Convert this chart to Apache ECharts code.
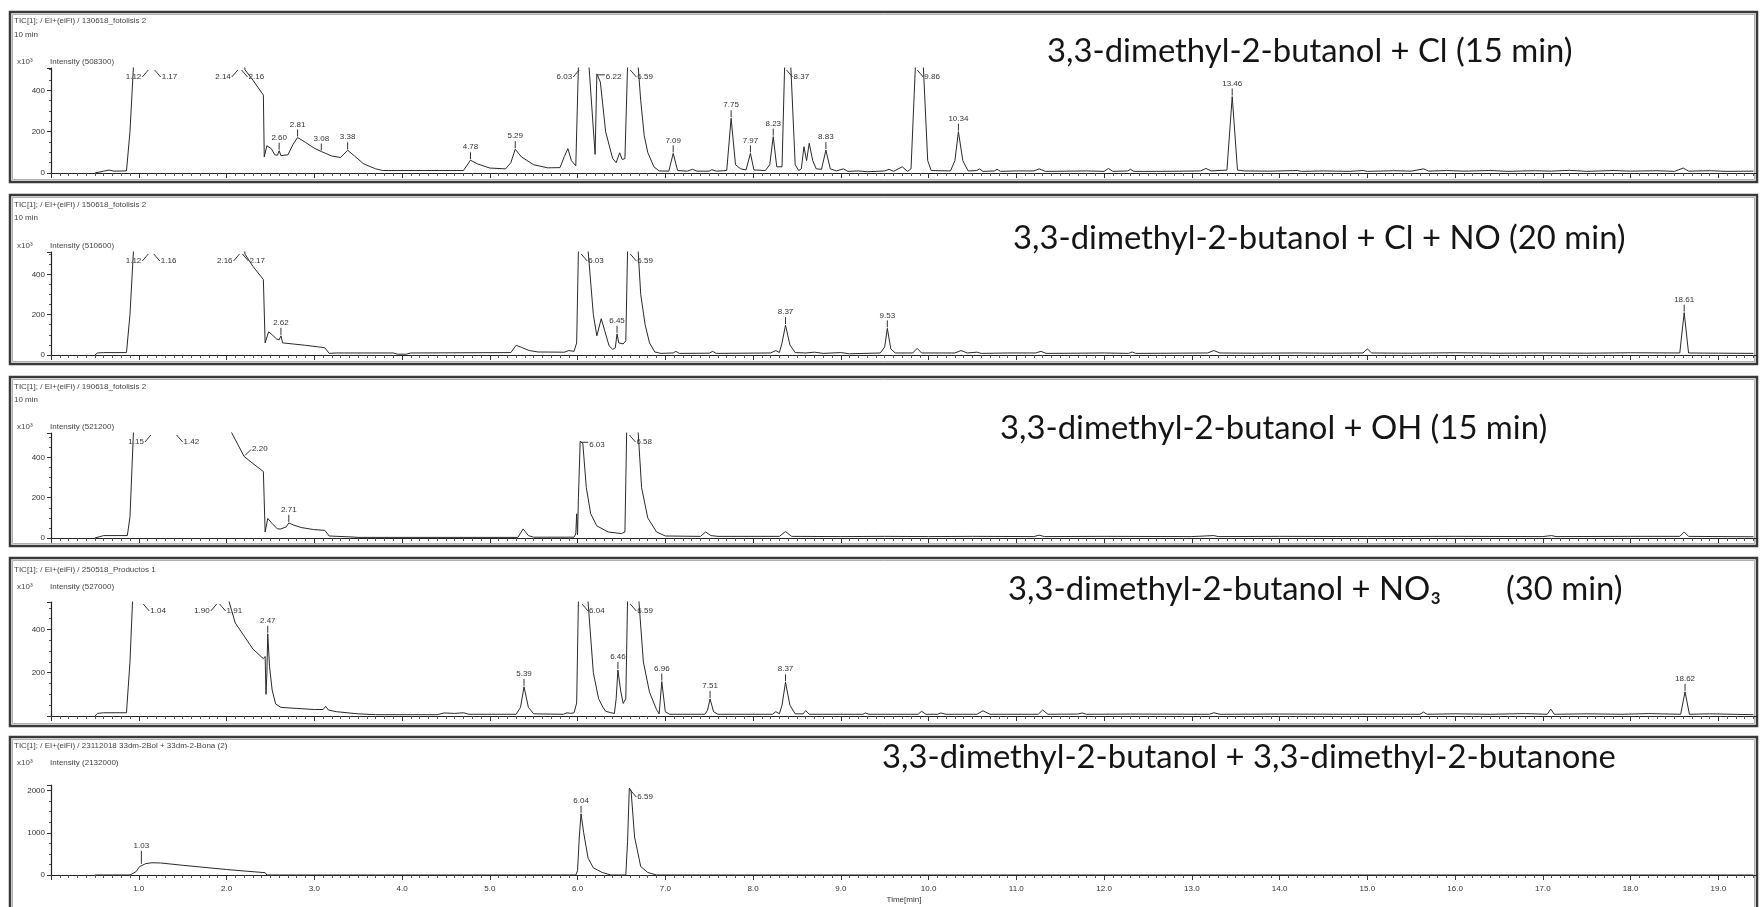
<!DOCTYPE html>
<html>
<head>
<meta charset="utf-8">
<script src="https://cdn.jsdelivr.net/npm/echarts/dist/echarts.min.js"></script>
<style>
html,body{margin:0;padding:0;background:#fff}
#chart{width:1760px;height:907px}
</style>
</head>
<body>
<div id="chart"></div>
<script>
// ---- chromatogram data: [retention time (min), intensity (x10^3)] ----
const CL_MAX = 508.3, CLNO_MAX = 510.6, OH_MAX = 521.2, NO3_MAX = 527.0, KET_MAX = 2132.0;
const OFF = 900; // off-scale (saturated) points, clipped at the plot top

const clTrace = [
  [0.50,0],[0.52,7],[0.60,9],[0.66,14],[0.72,9],[0.86,10],[0.90,200],[0.94,520],[0.97,OFF],
  [2.17,OFF],[2.21,500],[2.30,450],[2.42,377],[2.43,78],[2.46,132],[2.51,118],[2.55,88],[2.58,86],
  [2.60,108],[2.62,84],[2.70,88],[2.76,140],[2.81,172],[2.90,148],[3.00,120],[3.08,104],[3.20,82],
  [3.30,75],[3.38,110],[3.46,82],[3.56,45],[3.70,20],[3.78,12],[4.70,12],[4.78,62],[4.86,44],
  [5.00,24],[5.18,20],[5.24,50],[5.29,115],[5.36,78],[5.50,40],[5.66,25],[5.80,26],[5.85,80],
  [5.89,118],[5.93,60],[5.98,35],[6.01,520],[6.03,OFF],[6.10,OFF],[6.13,520],[6.20,90],[6.22,480],
  [6.26,440],[6.32,200],[6.40,70],[6.44,50],[6.48,98],[6.51,65],[6.54,70],[6.57,520],[6.60,OFF],
  [6.66,OFF],[6.69,520],[6.72,350],[6.76,180],[6.80,100],[6.87,30],[6.93,10],[7.04,9],[7.09,95],
  [7.14,12],[7.25,9],[7.31,18],[7.36,9],[7.50,9],[7.53,16],[7.58,9],[7.70,12],[7.75,265],[7.80,40],
  [7.86,20],[7.92,15],[7.97,95],[8.01,15],[8.14,12],[8.19,40],[8.23,176],[8.27,30],[8.33,30],
  [8.36,520],[8.38,OFF],[8.41,OFF],[8.43,520],[8.48,40],[8.52,12],[8.55,20],[8.58,127],[8.61,60],
  [8.64,144],[8.68,60],[8.72,20],[8.78,18],[8.83,111],[8.88,20],[8.95,10],[9.03,20],[9.08,8],
  [9.20,10],[9.30,6],[9.50,10],[9.55,18],[9.60,8],[9.70,30],[9.76,8],[9.80,20],[9.85,520],
  [9.87,OFF],[9.92,OFF],[9.94,520],[9.99,60],[10.03,12],[10.25,10],[10.30,60],[10.34,200],
  [10.39,60],[10.45,10],[10.55,12],[10.58,20],[10.62,8],[10.75,10],[10.78,18],[10.82,8],[11.00,10],
  [11.20,10],[11.26,20],[11.33,8],[11.60,9],[11.80,10],[12.00,8],[12.05,22],[12.10,8],[12.27,10],
  [12.30,18],[12.34,8],[12.60,8],[12.90,9],[13.10,10],[13.16,22],[13.22,10],[13.40,14],[13.46,370],
  [13.52,14],[13.60,10],[13.90,9],[14.20,12],[14.25,8],[14.50,10],[14.80,8],[14.95,12],[15.00,8],
  [15.30,11],[15.50,9],[15.64,20],[15.70,9],[15.90,12],[16.10,9],[16.40,12],[16.60,8],[16.90,11],
  [17.10,9],[17.30,13],[17.50,8],[17.80,12],[18.00,9],[18.30,11],[18.50,8],[18.60,24],[18.66,9],
  [18.90,11],[19.10,8],[19.40,9]
];

const clnoTrace = [
  [0.50,0],[0.53,10],[0.60,12],[0.86,12],[0.90,200],[0.94,520],[0.97,OFF],[2.17,OFF],[2.21,500],
  [2.30,440],[2.42,374],[2.44,60],[2.48,115],[2.52,100],[2.57,80],[2.60,75],[2.62,95],[2.64,60],
  [2.75,55],[2.90,48],[3.05,40],[3.12,36],[3.17,8],[3.25,10],[3.90,10],[3.95,4],[4.05,4],[4.10,10],
  [5.24,12],[5.30,48],[5.36,38],[5.45,22],[5.55,15],[5.85,14],[5.90,22],[5.96,18],[5.99,60],
  [6.01,520],[6.03,OFF],[6.09,OFF],[6.12,520],[6.18,200],[6.22,95],[6.27,180],[6.31,120],[6.36,45],
  [6.40,28],[6.43,35],[6.45,105],[6.47,60],[6.52,55],[6.55,70],[6.57,520],[6.59,OFF],[6.66,OFF],
  [6.69,520],[6.72,300],[6.77,150],[6.82,60],[6.88,15],[6.95,8],[7.09,10],[7.12,18],[7.16,8],
  [7.50,9],[7.54,18],[7.58,8],[8.20,10],[8.26,22],[8.30,12],[8.33,60],[8.37,148],[8.42,50],
  [8.48,12],[8.60,10],[8.70,14],[8.80,8],[9.00,12],[9.10,6],[9.45,10],[9.50,40],[9.53,132],
  [9.57,30],[9.62,10],[9.82,10],[9.87,33],[9.92,10],[10.30,10],[10.37,22],[10.44,10],[10.55,14],
  [10.60,8],[10.90,10],[11.22,10],[11.28,18],[11.34,8],[11.70,9],[12.00,10],[12.28,8],[12.32,15],
  [12.36,8],[12.80,9],[13.18,10],[13.25,22],[13.32,10],[13.70,9],[14.20,10],[14.60,9],[14.95,10],
  [15.00,30],[15.05,10],[15.50,9],[16.00,11],[16.50,9],[17.00,10],[17.50,9],[18.00,11],[18.56,10],
  [18.61,210],[18.66,10],[19.00,9],[19.40,8]
];

const ohTrace = [
  [0.50,0],[0.60,12],[0.87,12],[0.90,105],[0.94,530],[0.97,OFF],[2.02,OFF],[2.05,530],[2.20,405],
  [2.30,370],[2.42,330],[2.44,30],[2.47,97],[2.52,72],[2.58,45],[2.62,45],[2.68,55],[2.71,75],
  [2.76,65],[2.85,52],[2.99,42],[3.12,38],[3.17,10],[3.43,5],[3.50,3],[5.32,3],[5.38,45],[5.44,12],
  [5.50,4],[5.96,4],[5.98,20],[5.99,120],[6.00,15],[6.01,200],[6.03,480],[6.06,470],[6.10,250],
  [6.15,120],[6.22,60],[6.35,30],[6.50,22],[6.54,30],[6.56,530],[6.58,OFF],[6.66,OFF],[6.69,530],
  [6.73,250],[6.80,100],[6.90,30],[7.00,10],[7.40,8],[7.46,30],[7.52,12],[7.60,8],[8.30,8],
  [8.37,32],[8.44,8],[9.00,7],[9.50,8],[10.00,7],[10.50,8],[11.20,7],[11.26,14],[11.32,7],
  [12.00,8],[13.00,7],[13.25,12],[13.30,7],[14.00,8],[15.00,7],[16.00,8],[17.00,7],[17.10,12],
  [17.15,7],[18.00,8],[18.56,8],[18.61,30],[18.66,8],[19.40,6]
];

const no3Trace = [
  [0.50,0],[0.53,12],[0.60,15],[0.86,15],[0.90,250],[0.93,540],[0.96,OFF],[1.98,OFF],[2.03,527],
  [2.10,430],[2.20,370],[2.30,310],[2.42,265],[2.44,275],[2.45,100],[2.46,200],[2.47,380],
  [2.49,230],[2.52,120],[2.56,55],[2.62,40],[2.80,35],[3.00,30],[3.10,30],[3.13,45],[3.16,28],
  [3.25,20],[3.50,10],[3.70,6],[4.40,6],[4.48,14],[4.60,12],[4.70,15],[4.76,8],[5.30,8],[5.35,40],
  [5.39,135],[5.44,40],[5.50,10],[5.84,8],[5.88,15],[5.92,12],[5.96,15],[5.99,60],[6.01,540],
  [6.04,OFF],[6.09,OFF],[6.12,527],[6.18,200],[6.24,80],[6.29,40],[6.32,22],[6.38,15],[6.42,12],
  [6.44,80],[6.46,213],[6.49,120],[6.52,58],[6.55,80],[6.57,540],[6.59,OFF],[6.67,OFF],[6.70,527],
  [6.75,250],[6.82,110],[6.90,30],[6.93,10],[6.96,159],[7.00,20],[7.05,8],[7.45,8],[7.48,25],
  [7.51,79],[7.55,20],[7.60,8],[8.22,8],[8.26,20],[8.30,10],[8.33,50],[8.37,156],[8.42,50],
  [8.48,10],[8.57,10],[8.60,25],[8.64,8],[9.25,8],[9.28,14],[9.32,8],[9.88,8],[9.92,22],[9.97,8],
  [10.10,8],[10.14,14],[10.20,8],[10.55,8],[10.62,24],[10.70,8],[11.25,8],[11.30,28],[11.36,8],
  [11.70,9],[11.75,14],[11.80,8],[12.30,9],[13.20,8],[13.25,15],[13.32,8],[14.00,9],[14.80,8],
  [15.60,8],[15.64,18],[15.68,8],[16.00,10],[16.40,8],[16.80,11],[17.05,8],[17.09,32],[17.13,8],
  [17.50,10],[17.90,8],[18.20,11],[18.57,8],[18.62,112],[18.67,8],[18.90,10],[19.40,6]
];

const ketTrace = [
  [0.50,0],[0.90,0],[0.97,80],[1.01,200],[1.03,240],[1.08,270],[1.15,290],[1.25,285],[1.50,230],
  [1.80,170],[2.00,130],[2.20,95],[2.44,55],[2.46,0],[5.98,0],[6.00,100],[6.02,900],[6.04,1450],
  [6.07,1000],[6.12,400],[6.18,170],[6.28,60],[6.38,0],[6.55,0],[6.57,800],[6.59,2060],
  [6.61,2000],[6.65,900],[6.72,200],[6.80,60],[6.90,0],[19.40,0]
];

// ---- peak annotations: [time, intensity, style] ----
// style: T = above apex, L = left of saturated top, R = right of top, H = flat leader, U = rising leader
const clPeaks = [
  [1.12,CL_MAX,'L'],[1.17,CL_MAX,'R'],[2.14,CL_MAX,'L'],[2.16,CL_MAX,'R'],[2.60,108,'T'],
  [2.81,172,'T'],[3.08,104,'T'],[3.38,110,'T'],[4.78,62,'T'],[5.29,115,'T'],[6.03,CL_MAX,'L'],
  [6.22,480,'H'],[6.59,CL_MAX,'R'],[7.09,95,'T'],[7.75,265,'T'],[7.97,95,'T'],[8.23,176,'T'],
  [8.37,CL_MAX,'R'],[8.83,111,'T'],[9.86,CL_MAX,'R'],[10.34,200,'T'],[13.46,370,'T']
];
const clnoPeaks = [
  [1.12,CLNO_MAX,'L'],[1.16,CLNO_MAX,'R'],[2.16,CLNO_MAX,'L'],[2.17,CLNO_MAX,'R'],[2.62,95,'T'],
  [6.03,CLNO_MAX,'R'],[6.45,105,'T'],[6.59,CLNO_MAX,'R'],[8.37,148,'T'],[9.53,132,'T'],
  [18.61,210,'T']
];
const ohPeaks = [
  [1.15,OH_MAX,'L'],[1.42,OH_MAX,'R'],[2.20,405,'U'],[2.71,75,'T'],[6.03,480,'H'],[6.58,OH_MAX,'R']
];
const no3Peaks = [
  [1.04,NO3_MAX,'R'],[1.90,NO3_MAX,'L'],[1.91,NO3_MAX,'R'],[2.47,380,'T'],[5.39,135,'T'],
  [6.04,NO3_MAX,'R'],[6.46,213,'T'],[6.59,NO3_MAX,'R'],[6.96,159,'T'],[7.51,79,'T'],
  [8.37,156,'T'],[18.62,112,'T']
];
const ketPeaks = [
  [1.03,240,'T',13],[6.04,1450,'T'],[6.59,2060,'R']
];

// ---- run descriptions ----
const runFiles = [
  'TIC[1]; / EI+(eiFi) / 130618_fotolisis 2',
  'TIC[1]; / EI+(eiFi) / 150618_fotolisis 2',
  'TIC[1]; / EI+(eiFi) / 190618_fotolisis 2',
  'TIC[1]; / EI+(eiFi) / 250518_Productos 1',
  'TIC[1]; / EI+(eiFi) / 23112018 33dm-2Bol + 33dm-2-Bona (2)'
];
const runSpans = ['10 min', '10 min', '10 min', '', ''];
const titles = [
  '3,3-dimethyl-2-butanol + Cl (15 min)',
  '3,3-dimethyl-2-butanol + Cl + NO (20 min)',
  '3,3-dimethyl-2-butanol + OH (15 min)',
  '3,3-dimethyl-2-butanol + NO\u2083',
  '3,3-dimethyl-2-butanol + 3,3-dimethyl-2-butanone'
];
const extraTitle = '(30 min)';
const intensityMax = [CL_MAX, CLNO_MAX, OH_MAX, NO3_MAX, KET_MAX];
const yLabelStep = [200, 200, 200, 200, 1000];
const yShowZero = [true, true, true, false, true];
const traces = [clTrace, clnoTrace, ohTrace, no3Trace, ketTrace];
const peaks = [clPeaks, clnoPeaks, ohPeaks, no3Peaks, ketPeaks];

// ---- layout (pixels) ----
const TIME_MAX = 19.44;
const PLOT_LEFT = 51, PLOT_WIDTH = 1706;
const gridTop = [68, 252, 433, 602, 785];
const gridHeight = [105, 103, 105, 114, 90];
const frameTop = [12, 195, 377, 558, 737];
const frameBottom = [182, 364, 546, 726, 930];
const fileY = [21, 205, 387, 570, 746];
const spanY = [35, 218, 400, 0, 0];
const scaleY = [62, 246, 427, 587, 763];
const titleX = [1047, 1013, 1000, 1008, 882];
const titleY = [51, 238, 428, 589, 757];
const extraTitleX = 1506;

const SMALL = '"Liberation Sans", Arial, sans-serif';
const TITLE_FAMILY = 'Lato';

// one title size for all panels, sized so the first title spans its width
function titleFontSize() {
  const ctx = document.createElement('canvas').getContext('2d');
  ctx.font = '100px ' + TITLE_FAMILY;
  return 100 * 526 / ctx.measureText(titles[0]).width;
}
const titleSize = titleFontSize();

function peakLabels(idx, list) {
  return {
    type: 'custom',
    xAxisIndex: idx,
    yAxisIndex: idx,
    silent: true,
    z: 5,
    data: list.map(p => [p[0], p[1]]),
    renderItem: function (params, api) {
      const pk = list[params.dataIndex];
      const pt = api.coord([api.value(0), api.value(1)]);
      const x = pt[0], y = pt[1];
      const kind = pk[2];
      const tick = pk[3] || 7;
      let ln, tx, ty, align;
      if (kind === 'T') { ln = [x, y - 1, x, y - 1 - tick]; tx = x; ty = y - tick - 6; align = 'center'; }
      else if (kind === 'L') { ln = [x - 1, y + 2, x - 7, y + 9]; tx = x - 8; ty = y + 9; align = 'right'; }
      else if (kind === 'R') { ln = [x + 1, y + 2, x + 7, y + 9]; tx = x + 8; ty = y + 9; align = 'left'; }
      else if (kind === 'H') { ln = [x + 1, y + 1, x + 8, y + 1]; tx = x + 9; ty = y + 3; align = 'left'; }
      else { ln = [x + 1, y - 1, x + 7, y - 7]; tx = x + 8; ty = y - 8; align = 'left'; }
      return {
        type: 'group',
        children: [
          { type: 'line', shape: { x1: ln[0], y1: ln[1], x2: ln[2], y2: ln[3] },
            style: { stroke: '#333', lineWidth: 1 } },
          { type: 'text', style: { text: pk[0].toFixed(2), x: tx, y: ty, align: align,
            verticalAlign: 'middle', fill: '#333', font: '8px ' + SMALL } }
        ]
      };
    }
  };
}

const grids = [], xAxes = [], yAxes = [], series = [], graphics = [];

for (let i = 0; i < 5; i++) {
  const last = i === 4;
  grids.push({ left: PLOT_LEFT, width: PLOT_WIDTH, top: gridTop[i], height: gridHeight[i] });
  xAxes.push({
    gridIndex: i, type: 'value', min: 0, max: TIME_MAX, interval: 1,
    axisLine: { show: true, onZero: false, lineStyle: { color: '#222', width: 1.2 } },
    axisTick: { show: true, length: 5, lineStyle: { color: '#333' } },
    minorTick: { show: true, splitNumber: 10, length: 3, lineStyle: { color: '#555' } },
    splitLine: { show: false },
    axisLabel: last ? {
      show: true, margin: 10, color: '#333', fontSize: 8, fontFamily: SMALL,
      formatter: v => (v > 0 && Math.abs(v - Math.round(v)) < 1e-9) ? v.toFixed(1) : ''
    } : { show: false },
    name: last ? 'Time[min]' : '',
    nameLocation: 'middle', nameGap: 21,
    nameTextStyle: { color: '#333', fontSize: 8, fontFamily: SMALL }
  });
  const step = yLabelStep[i], showZero = yShowZero[i];
  yAxes.push({
    gridIndex: i, type: 'value', min: 0, max: intensityMax[i], interval: step,
    axisLine: { show: true, lineStyle: { color: '#222', width: 1.2 } },
    axisTick: { show: true, length: 4, lineStyle: { color: '#333' } },
    minorTick: { show: true, splitNumber: 4, length: 2, lineStyle: { color: '#555' } },
    splitLine: { show: false },
    axisLabel: {
      margin: 6, color: '#333', fontSize: 8, fontFamily: SMALL,
      formatter: v => (Math.abs(v % step) < 1e-9 && (showZero || v !== 0)) ? String(v) : ''
    }
  });
  series.push({
    type: 'line', xAxisIndex: i, yAxisIndex: i, data: traces[i],
    symbol: 'none', showSymbol: false, clip: true, silent: true,
    lineStyle: { color: '#2a2a2a', width: 1 }
  });
  series.push(peakLabels(i, peaks[i]));

  // panel frame
  graphics.push({
    type: 'rect', z: 0,
    shape: { x: 10, y: frameTop[i], width: 1747, height: frameBottom[i] - frameTop[i] },
    style: { fill: null, stroke: '#3a3a3a', lineWidth: 2.5 }
  });
  graphics.push({
    type: 'rect', z: 0,
    shape: { x: 12.5, y: frameTop[i] + 2.5, width: 1742, height: frameBottom[i] - frameTop[i] - 5 },
    style: { fill: null, stroke: '#b0b0b0', lineWidth: 1 }
  });
  // run header
  graphics.push({ type: 'text', x: 14, y: fileY[i], z: 2,
    style: { text: runFiles[i], fill: '#444', font: '8px ' + SMALL, verticalAlign: 'middle' } });
  if (runSpans[i]) {
    graphics.push({ type: 'text', x: 14, y: spanY[i], z: 2,
      style: { text: runSpans[i], fill: '#444', font: '8px ' + SMALL, verticalAlign: 'middle' } });
  }
  graphics.push({ type: 'text', x: 17, y: scaleY[i], z: 2,
    style: { text: 'x10\u00b3', fill: '#444', font: '8px ' + SMALL, verticalAlign: 'middle' } });
  graphics.push({ type: 'text', x: 50, y: scaleY[i], z: 2,
    style: { text: 'Intensity (' + Math.round(intensityMax[i] * 1000) + ')', fill: '#444',
      font: '8px ' + SMALL, verticalAlign: 'middle' } });
  // experiment title
  graphics.push({ type: 'text', x: titleX[i], y: titleY[i], z: 3,
    style: { text: titles[i], fill: '#151515', font: titleSize.toFixed(1) + 'px ' + TITLE_FAMILY,
      verticalAlign: 'middle' } });
}
graphics.push({ type: 'text', x: extraTitleX, y: titleY[3], z: 3,
  style: { text: extraTitle, fill: '#151515', font: titleSize.toFixed(1) + 'px ' + TITLE_FAMILY,
    verticalAlign: 'middle' } });

const chart = echarts.init(document.getElementById('chart'), null, { renderer: 'canvas' });
chart.setOption({
  animation: false,
  backgroundColor: '#ffffff',
  grid: grids,
  xAxis: xAxes,
  yAxis: yAxes,
  series: series,
  graphic: graphics
});
</script>
</body>
</html>
